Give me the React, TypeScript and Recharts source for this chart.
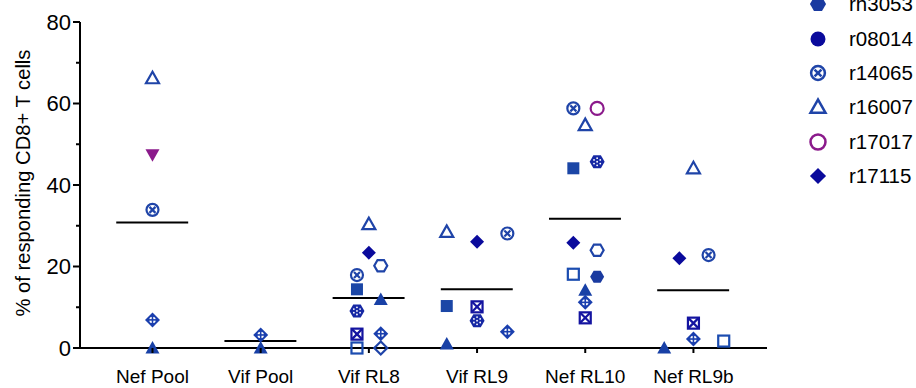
import React from "react";
import { ScatterChart, Scatter, XAxis, YAxis, ReferenceLine } from "recharts";

const categories = ["Nef Pool", "Vif Pool", "Vif RL8", "Vif RL9", "Nef RL10", "Nef RL9b"];
const means = [30.8, 1.7, 12.3, 14.4, 31.7, 14.2];
const yTicks = [0, 10, 20, 30, 40, 50, 60, 70, 80];

// points per animal: [x = category index + jitter, % responding]
const rh3053 = [[4.11, 17.5]];
const r08014: number[][] = [];
const r14065 = [[0, 33.9], [1.89, 17.9], [3.28, 28.1], [3.89, 58.8], [5.14, 22.8]];
const r16007 = [[0, 66.2], [2, 30.4], [2.72, 28.5], [4, 54.7], [5, 44.1]];
const r17017 = [[4.11, 58.8]];
const r17115 = [[2, 23.4], [3, 26.1], [3.89, 25.8], [4.87, 22.0]];
// animals whose legend rows are cut off above the picture
const triFilled = [[0, 0], [1, 0], [2.11, 11.9], [2.72, 1.0], [4, 14.2], [4.73, 0]];
const triDown = [[0, 47.4]];
const diamondCross = [[0, 6.9], [1, 3.2], [2.11, 3.5], [3.28, 4.0], [4, 11.2], [5, 2.2]];
const squareFilled = [[1.89, 14.4], [2.72, 10.3], [3.89, 44.1]];
const squareOpen = [[1.89, 0], [3.89, 18.1], [5.28, 1.7]];
const squareX = [[1.89, 3.4], [3, 10.1], [4, 7.4], [5, 6.1]];
const diamondOpen = [[2.11, 0]];
const hexOpen = [[2.11, 20.2], [4.11, 24.0]];
const hexDotted = [[1.89, 9.1], [3, 6.7], [4.11, 45.7]];

const BLUE = "#1f44a8";
const NAVY = "#0a0a9c";
const PURPLE = "#8b1a8b";
const FONT = "'Liberation Sans', Arial, sans-serif";

const series = [
  { name: "rh3053", pts: rh3053, kind: "hexFilled", color: "#1a3aa0", legend: true },
  { name: "r08014", pts: r08014, kind: "circleFilled", color: NAVY, legend: true },
  { name: "r14065", pts: r14065, kind: "circleX", color: BLUE, legend: true },
  { name: "r16007", pts: r16007, kind: "triOpen", color: BLUE, legend: true },
  { name: "r17017", pts: r17017, kind: "circleOpen", color: PURPLE, legend: true },
  { name: "r17115", pts: r17115, kind: "diamondFilled", color: NAVY, legend: true },
  { name: "a1", pts: triFilled, kind: "triFilled", color: "#1840a6", legend: false },
  { name: "a2", pts: triDown, kind: "triDown", color: PURPLE, legend: false },
  { name: "a3", pts: diamondCross, kind: "diamondCross", color: "#1a3fae", legend: false },
  { name: "a4", pts: squareFilled, kind: "squareFilled", color: "#1b46a6", legend: false },
  { name: "a5", pts: squareOpen, kind: "squareOpen", color: "#1b4cb0", legend: false },
  { name: "a6", pts: squareX, kind: "squareX", color: "#1414a0", legend: false },
  { name: "a7", pts: diamondOpen, kind: "diamondOpen", color: BLUE, legend: false },
  { name: "a8", pts: hexOpen, kind: "hexOpen", color: BLUE, legend: false },
  { name: "a9", pts: hexDotted, kind: "hexDotted", color: "#1628a4", legend: false },
];

const hex = (cx: number, cy: number, r: number) =>
  [0, 60, 120, 180, 240, 300]
    .map((a) => `${cx + r * Math.cos((a * Math.PI) / 180)},${cy + r * Math.sin((a * Math.PI) / 180)}`)
    .join(" ");

const diamond = (cx: number, cy: number, r: number) =>
  `${cx},${cy - r} ${cx + r},${cy} ${cx},${cy + r} ${cx - r},${cy}`;

function Marker({ kind, cx, cy, color, s = 1 }: any) {
  const k = (v: number) => v * s;
  const sw = 2.2 * s;
  switch (kind) {
    case "hexFilled":
      return <polygon points={hex(cx, cy, k(7))} fill={color} />;
    case "circleFilled":
      return <circle cx={cx} cy={cy} r={k(6.5)} fill={color} />;
    case "circleX":
      return (
        <g stroke={color} strokeWidth={sw} fill="none">
          <circle cx={cx} cy={cy} r={k(6)} />
          <line x1={cx - k(3)} y1={cy - k(3)} x2={cx + k(3)} y2={cy + k(3)} />
          <line x1={cx - k(3)} y1={cy + k(3)} x2={cx + k(3)} y2={cy - k(3)} />
        </g>
      );
    case "triOpen":
      return (
        <polygon
          points={`${cx},${cy - k(6.5)} ${cx - k(6.5)},${cy + k(5)} ${cx + k(6.5)},${cy + k(5)}`}
          fill="none"
          stroke={color}
          strokeWidth={sw}
        />
      );
    case "triFilled":
      return <polygon points={`${cx},${cy - k(7)} ${cx - k(7)},${cy + k(5.5)} ${cx + k(7)},${cy + k(5.5)}`} fill={color} />;
    case "triDown":
      return <polygon points={`${cx},${cy + k(7)} ${cx - k(7)},${cy - k(5.5)} ${cx + k(7)},${cy - k(5.5)}`} fill={color} />;
    case "circleOpen":
      return <circle cx={cx} cy={cy} r={k(6.5)} fill="none" stroke={color} strokeWidth={sw} />;
    case "diamondFilled":
      return <polygon points={diamond(cx, cy, k(7))} fill={color} />;
    case "diamondOpen":
      return <polygon points={diamond(cx, cy, k(6.5))} fill="none" stroke={color} strokeWidth={sw} />;
    case "diamondCross":
      return (
        <g>
          <polygon points={diamond(cx, cy, k(7.5))} fill={color} />
          <circle cx={cx} cy={cy} r={k(3.2)} fill="#fff" />
          <line x1={cx - k(5)} y1={cy} x2={cx + k(5)} y2={cy} stroke={color} strokeWidth={1.6} />
          <line x1={cx} y1={cy - k(5)} x2={cx} y2={cy + k(5)} stroke={color} strokeWidth={1.6} />
        </g>
      );
    case "squareFilled":
      return <rect x={cx - k(6)} y={cy - k(6)} width={k(12)} height={k(12)} fill={color} />;
    case "squareOpen":
      return <rect x={cx - k(5.5)} y={cy - k(5.5)} width={k(11)} height={k(11)} fill="none" stroke={color} strokeWidth={sw} />;
    case "squareX":
      return (
        <g stroke={color} strokeWidth={sw} fill="none">
          <rect x={cx - k(5.5)} y={cy - k(5.5)} width={k(11)} height={k(11)} />
          <line x1={cx - k(5)} y1={cy - k(5)} x2={cx + k(5)} y2={cy + k(5)} />
          <line x1={cx - k(5)} y1={cy + k(5)} x2={cx + k(5)} y2={cy - k(5)} />
        </g>
      );
    case "hexOpen":
      return <polygon points={hex(cx, cy, k(6.5))} fill="none" stroke={color} strokeWidth={sw} />;
    case "hexDotted":
      return (
        <g>
          <polygon points={hex(cx, cy, k(7.5))} fill={color} />
          {[30, 90, 150, 210, 270, 330].map((a) => (
            <circle
              key={a}
              cx={cx + k(3.6) * Math.cos((a * Math.PI) / 180)}
              cy={cy + k(3.6) * Math.sin((a * Math.PI) / 180)}
              r={0.9}
              fill="#fff"
            />
          ))}
          <circle cx={cx} cy={cy} r={0.9} fill="#fff" />
        </g>
      );
    default:
      return null;
  }
}

const YTick = ({ x, y, payload }: any) => {
  const major = payload.value % 20 === 0;
  return (
    <g>
      <line x1={x - (major ? 7 : 4)} x2={x} y1={y} y2={y} stroke="#000" strokeWidth={2} />
      {major && (
        <text x={x - 9} y={y} dy="0.36em" textAnchor="end" fontSize={22} fontFamily={FONT} fill="#000">
          {payload.value}
        </text>
      )}
    </g>
  );
};

const XTick = ({ x, y, payload }: any) => (
  <g>
    <line x1={x} x2={x} y1={y} y2={y + 5} stroke="#000" strokeWidth={2} />
    <text x={x} y={y + 35} textAnchor="middle" fontSize={19} fontFamily={FONT} fill="#000">
      {categories[payload.value]}
    </text>
  </g>
);

const YLabel = ({ viewBox }: any) => {
  const cx = viewBox.x + 23;
  const cy = viewBox.y + viewBox.height / 2 - 2;
  return (
    <text
      x={cx}
      y={cy}
      textAnchor="middle"
      dominantBaseline="central"
      transform={`rotate(-90, ${cx}, ${cy})`}
      fontSize={20.2}
      fontFamily={FONT}
      fill="#000"
    >
      % of responding CD8+ T cells
    </text>
  );
};

export default function App() {
  const legendItems = series.filter((s) => s.legend);
  return (
    <div style={{ position: "absolute", left: 0, top: 0, width: 916, height: 388, background: "#fff", overflow: "hidden" }}>
      <ScatterChart width={916} height={388} margin={{ top: 22, right: 149, bottom: 0, left: 0 }}>
        <XAxis
          type="number"
          dataKey="x"
          domain={[-0.67, 5.68]}
          ticks={[0, 1, 2, 3, 4, 5]}
          allowDataOverflow
          height={40}
          tickSize={0}
          tickMargin={0}
          tick={<XTick />}
          axisLine={{ stroke: "#000", strokeWidth: 2 }}
          tickLine={false}
        />
        <YAxis
          type="number"
          dataKey="y"
          domain={[0, 80]}
          ticks={yTicks}
          width={80}
          tickSize={0}
          tickMargin={0}
          tick={<YTick />}
          axisLine={{ stroke: "#000", strokeWidth: 2 }}
          tickLine={false}
          label={<YLabel />}
        />
        {means.map((m, i) => (
          <ReferenceLine
            key={categories[i]}
            segment={[
              { x: i - 0.335, y: m },
              { x: i + 0.33, y: m },
            ]}
            stroke="#000"
            strokeWidth={2}
            ifOverflow="visible"
          />
        ))}
        {series.map((s) => (
          <Scatter
            key={s.name}
            name={s.name}
            data={s.pts.map(([x, y]) => ({ x, y }))}
            isAnimationActive={false}
            shape={(p: any) => <Marker kind={s.kind} cx={p.cx} cy={p.cy} color={s.color} />}
          />
        ))}
      </ScatterChart>
      <div style={{ position: "absolute", left: 804, top: -13, fontFamily: FONT, fontSize: 20.5 }}>
        {legendItems.map((s) => (
          <div key={s.name} style={{ display: "flex", alignItems: "center", height: 34.4 }}>
            <svg width={30} height={30} style={{ marginRight: 15 }}>
              <Marker kind={s.kind} cx={14} cy={15} color={s.color} s={1.15} />
            </svg>
            <span>{s.name}</span>
          </div>
        ))}
      </div>
    </div>
  );
}
